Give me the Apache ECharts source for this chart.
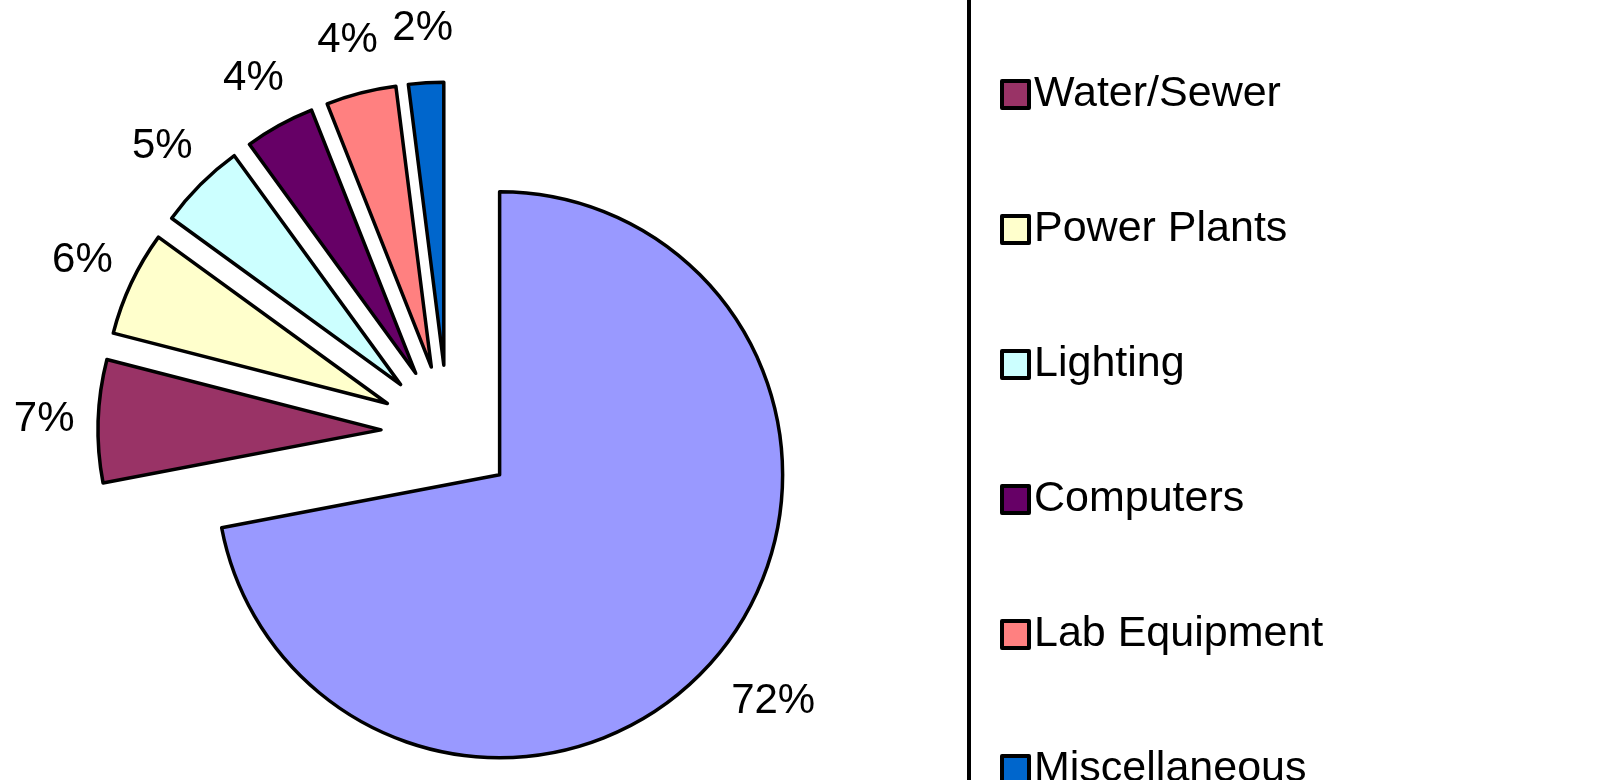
<!DOCTYPE html>
<html><head><meta charset="utf-8">
<script src="https://cdn.jsdelivr.net/npm/echarts@6/dist/echarts.min.js"></script>
<style>html,body{margin:0;padding:0;background:#fff}#c{width:1608px;height:780px}</style>
</head><body><div id="c"></div>
<script>
// ---- data ----
const mainCategory = 'Main load';
const categories = [mainCategory, 'Water/Sewer', 'Power Plants', 'Lighting', 'Computers', 'Lab Equipment', 'Miscellaneous'];
const values = [72, 7, 6, 5, 4, 4, 2];
const legendCategories = categories.slice(1);

// ---- styles ----
const colors = ['#9999FF', '#993366', '#FFFFCC', '#CCFFFF', '#660066', '#FF8080', '#0066CC'];
const FONT = '"Liberation Sans", Arial, sans-serif';
const LINE = { borderColor: '#000', borderWidth: 3.5 };
const HIDDEN = { color: 'rgba(0,0,0,0)', borderWidth: 0 };
const CENTER = [448, 432];
const R = 283, EXPLODE = 67;

const fmt = p => p.value + '%';
const insideLabel = { show: true, position: 'inside', formatter: fmt, color: '#000', fontSize: 42, fontFamily: FONT, fontWeight: 'normal' };
const NOLABEL = { show: false };

// transparent ring that only carries the percentage labels
function labelRing(radius, showFn) {
  return {
    type: 'pie', center: CENTER, radius: radius, startAngle: 90, clockwise: true,
    silent: true, selectedMode: 'multiple', selectedOffset: EXPLODE,
    avoidLabelOverlap: false,
    itemStyle: HIDDEN, labelLine: { show: false },
    label: insideLabel,
    data: categories.map((n, i) => ({
      name: n, value: values[i], selected: true,
      label: showFn(i) ? insideLabel : NOLABEL,
      select: { itemStyle: HIDDEN }
    }))
  };
}

const chart = echarts.init(document.getElementById('c'), null, { renderer: 'canvas' });
chart.setOption({
  backgroundColor: '#fff',
  animation: false,
  legend: {
    data: legendCategories,
    orient: 'vertical',
    left: 969, top: -38, height: 1200,
    padding: [111, 700, 80, 31],
    backgroundColor: '#fff',
    borderColor: '#000', borderWidth: 4, borderRadius: 0,
    icon: 'rect', itemWidth: 27, itemHeight: 27, itemGap: 92,
    itemStyle: { borderColor: '#000', borderWidth: 4 },
    textStyle: { fontSize: 43, fontFamily: FONT, color: '#000' },
    selectedMode: false
  },
  series: [
    {
      type: 'pie', center: CENTER, radius: [0, R], startAngle: 90, clockwise: true,
      silent: true, selectedMode: 'multiple', selectedOffset: EXPLODE,
      label: { show: false }, labelLine: { show: false },
      data: categories.map((n, i) => ({
        name: n, value: values[i], selected: true,
        itemStyle: Object.assign({ color: colors[i] }, LINE),
        select: { itemStyle: Object.assign({ color: colors[i] }, LINE) }
      }))
    },
    labelRing([322, 346], i => i > 0),
    labelRing([340, 364], i => i === 0)
  ]
});
</script>
</body></html>
